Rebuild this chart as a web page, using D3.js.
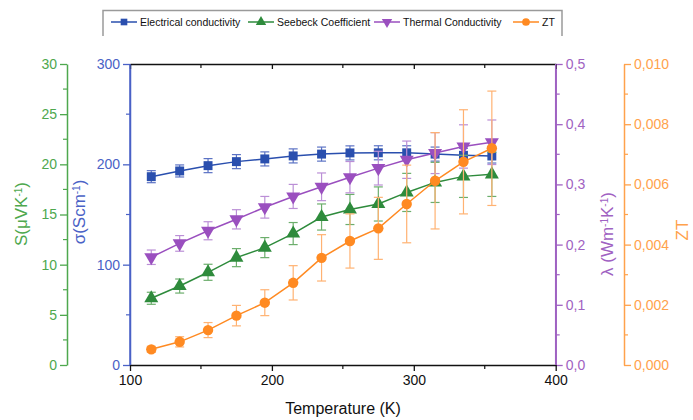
<!DOCTYPE html>
<html>
<head>
<meta charset="utf-8">
<script src="https://cdn.jsdelivr.net/npm/d3@7"></script>
<style>
  body { margin: 0; background: #fff; }
  svg { font-family: "Liberation Sans", Arial, sans-serif; }
</style>
</head>
<body>
<svg id="chart" width="693" height="420"></svg>
<script>
// data
var temps = [115, 135, 155, 175, 195, 215, 235, 255, 275, 295, 315, 335, 355];
var sigma = [187.7, 193.4, 198.7, 202.7, 205.4, 208.4, 210.2, 211.4, 211.5, 211.5, 210.2, 209, 208.3];
var sigmaErr = [6, 6, 7, 7, 7, 7, 7, 7, 7, 7, 7, 7, 7];
var seebeck = [6.65, 7.87, 9.24, 10.7, 11.7, 13.1, 14.75, 15.5, 16.05, 17.2, 18.2, 18.8, 19.0];
var seebeckErr = [0.6, 0.7, 0.8, 0.9, 1.0, 1.1, 1.3, 1.5, 1.7, 1.9, 2.0, 2.1, 2.2];
var lambda = [0.179, 0.202, 0.223, 0.242, 0.262, 0.280, 0.296, 0.312, 0.327, 0.341, 0.352, 0.363, 0.370];
var lambdaErr = [0.012, 0.013, 0.015, 0.016, 0.018, 0.02, 0.023, 0.026, 0.028, 0.031, 0.034, 0.036, 0.037];
var zt = [0.00052, 0.00077, 0.00116, 0.00164, 0.00207, 0.00273, 0.00356, 0.00412, 0.00454, 0.00535, 0.00612, 0.00675, 0.0072];
var ztErr = [0.0001, 0.00017, 0.00025, 0.00034, 0.00043, 0.00057, 0.00077, 0.0009, 0.00103, 0.00129, 0.0016, 0.00173, 0.0019];

var xTicks = [100, 200, 300, 400];
var legendNames = ["Electrical conductivity", "Seebeck Coefficient", "Thermal Conductivity", "ZT"];

var svg = d3.select("#chart");
var pTop = 64, pBottom = 365, pLeft = 130, pRight = 555.7;

var comma = d3.formatLocale({decimal: ",", thousands: ".", grouping: [3], currency: ["", ""]});

var x = d3.scaleLinear().domain([100, 400]).range([pLeft, pRight]);
var yS = d3.scaleLinear().domain([0, 30]).range([pBottom, pTop]);
var ySig = d3.scaleLinear().domain([0, 300]).range([pBottom, pTop]);
var yL = d3.scaleLinear().domain([0, 0.5]).range([pBottom, pTop]);
var yZ = d3.scaleLinear().domain([0, 0.01]).range([pBottom, pTop]);

var col = {
  blue: "#2a4fae", blueAx: "#4a62c6", blueErr: "#5b72c4",
  green: "#2e8b3c", greenAx: "#4ea84e", greenErr: "#6cae6c",
  purple: "#9a4fbf", purpleAx: "#9f62c2", purpleErr: "#bb8fd6",
  orange: "#ff8a22", orangeAx: "#ffa24c", orangeErr: "#ffb272"
};

function styleAxis(g, color, fs) {
  g.selectAll("path").attr("stroke", color).attr("stroke-width", 1.5);
  g.selectAll("line").attr("stroke", color).attr("stroke-width", 1.3);
  g.selectAll("text").attr("fill", color).style("font-size", fs || "14px").attr("font-family", null);
}
function minor(g, scale, vals, len, color) {
  g.selectAll(".mn").data(vals).enter().append("line")
    .attr("x1", 0).attr("x2", len)
    .attr("y1", function(d) { return scale(d); }).attr("y2", function(d) { return scale(d); })
    .attr("stroke", color).attr("stroke-width", 1.2);
}

// green S axis
var gS = svg.append("g").attr("transform", "translate(67,0)")
  .call(d3.axisLeft(yS).tickValues([0, 5, 10, 15, 20, 25, 30]).tickSize(7).tickPadding(3).tickSizeOuter(0));
styleAxis(gS, col.greenAx);
minor(gS, yS, [2.5, 7.5, 12.5, 17.5, 22.5, 27.5], -4, col.greenAx);

// blue sigma axis
var gSig = svg.append("g").attr("transform", "translate(" + pLeft + ",0)")
  .call(d3.axisLeft(ySig).tickValues([0, 100, 200, 300]).tickSize(7).tickPadding(3).tickSizeOuter(0));
styleAxis(gSig, col.blueAx);
minor(gSig, ySig, [50, 150, 250], -4, col.blueAx);

// purple lambda axis
var gL = svg.append("g").attr("transform", "translate(" + pRight + ",0)")
  .call(d3.axisRight(yL).tickValues([0, 0.1, 0.2, 0.3, 0.4, 0.5]).tickFormat(comma.format(".1f")).tickSize(7).tickPadding(3).tickSizeOuter(0));
styleAxis(gL, col.purpleAx);
minor(gL, yL, [0.05, 0.15, 0.25, 0.35, 0.45], 4, col.purpleAx);

// orange ZT axis
var gZ = svg.append("g").attr("transform", "translate(624,0)")
  .call(d3.axisRight(yZ).tickValues([0, 0.002, 0.004, 0.006, 0.008, 0.01]).tickFormat(comma.format(".3f")).tickSize(7).tickPadding(3).tickSizeOuter(0));
styleAxis(gZ, col.orangeAx);
minor(gZ, yZ, [0.001, 0.003, 0.005, 0.007, 0.009], 4, col.orangeAx);

// bottom and top frame
var gx = svg.append("g").attr("transform", "translate(0," + pBottom + ")")
  .call(d3.axisBottom(x).tickValues(xTicks).tickFormat(d3.format("d")).tickSize(6).tickPadding(4).tickSizeOuter(0));
styleAxis(gx, "#111");
gx.selectAll(".mnx").data([150, 250, 350]).enter().append("line")
  .attr("x1", function(d) { return x(d); }).attr("x2", function(d) { return x(d); })
  .attr("y1", 0).attr("y2", 4).attr("stroke", "#111").attr("stroke-width", 1.2);

var gt = svg.append("g").attr("transform", "translate(0," + pTop + ")")
  .call(d3.axisTop(x).tickValues(xTicks).tickFormat("").tickSize(-5).tickSizeOuter(0));
styleAxis(gt, "#111");
gt.selectAll(".mnt").data([150, 250, 350]).enter().append("line")
  .attr("x1", function(d) { return x(d); }).attr("x2", function(d) { return x(d); })
  .attr("y1", 0).attr("y2", 4).attr("stroke", "#111").attr("stroke-width", 1.2);

// redraw the coloured side lines over the frame corners
svg.append("line").attr("x1", pLeft).attr("x2", pLeft).attr("y1", pTop).attr("y2", pBottom).attr("stroke", col.blueAx).attr("stroke-width", 1.5);
svg.append("line").attr("x1", pRight).attr("x2", pRight).attr("y1", pTop).attr("y2", pBottom).attr("stroke", col.purpleAx).attr("stroke-width", 1.5);

// axis titles
function vTitle(cx, cy, color, parts) {
  var t = svg.append("text").attr("transform", "translate(" + cx + "," + cy + ") rotate(-90)")
    .attr("text-anchor", "middle").attr("fill", color).style("font-size", "17px");
  parts.forEach(function(p) {
    var s = t.append("tspan").text(p[0]);
    if (p[1]) s.attr("baseline-shift", "super").style("font-size", "10px");
  });
}
vTitle(27, 214, col.greenAx, [["S(\u03bcVK"], ["-1", true], [")"]]);
vTitle(85, 212, col.blueAx, [["\u03c3(Scm"], ["-1", true], [")"]]);
vTitle(613, 234, col.purpleAx, [["\u03bb (Wm"], ["-1", true], ["K"], ["-1", true], [")"]]);
vTitle(688, 230, col.orangeAx, [["ZT"]]);

svg.append("text").attr("x", 343).attr("y", 414).attr("text-anchor", "middle")
  .attr("fill", "#111").style("font-size", "16px").text("Temperature (K)");

// series
var series = [
  {v: sigma, e: sigmaErr, y: ySig, c: col.blue, ec: col.blueErr, sym: d3.symbolSquare, size: 80, rot: 0},
  {v: seebeck, e: seebeckErr, y: yS, c: col.green, ec: col.greenErr, sym: d3.symbolTriangle, size: 85, rot: 0},
  {v: lambda, e: lambdaErr, y: yL, c: col.purple, ec: col.purpleErr, sym: d3.symbolTriangle, size: 85, rot: 180},
  {v: zt, e: ztErr, y: yZ, c: col.orange, ec: col.orangeErr, sym: d3.symbolCircle, size: 85, rot: 0}
];

series.forEach(function(s) {
  var g = svg.append("g");
  var pts = temps.map(function(t, i) { return {t: t, v: s.v[i], e: s.e[i]}; });
  var eb = g.selectAll(".eb").data(pts).enter().append("g").attr("stroke", s.ec).attr("stroke-width", 1.2);
  eb.append("line")
    .attr("x1", function(d) { return x(d.t); }).attr("x2", function(d) { return x(d.t); })
    .attr("y1", function(d) { return s.y(d.v - d.e); }).attr("y2", function(d) { return s.y(d.v + d.e); });
  [-1, 1].forEach(function(k) {
    eb.append("line")
      .attr("x1", function(d) { return x(d.t) - 4.5; }).attr("x2", function(d) { return x(d.t) + 4.5; })
      .attr("y1", function(d) { return s.y(d.v + k * d.e); }).attr("y2", function(d) { return s.y(d.v + k * d.e); });
  });
  g.append("path").datum(pts)
    .attr("d", d3.line().x(function(d) { return x(d.t); }).y(function(d) { return s.y(d.v); }))
    .attr("fill", "none").attr("stroke", s.c).attr("stroke-width", 1.5);
  g.selectAll(".pt").data(pts).enter().append("path")
    .attr("d", d3.symbol().type(s.sym).size(s.size))
    .attr("transform", function(d) { return "translate(" + x(d.t) + "," + s.y(d.v) + ") rotate(" + s.rot + ")"; })
    .attr("fill", s.c);
});

// legend
var lg = svg.append("g");
lg.append("path").attr("d", "M103,36 V10.5 H562 V36").attr("fill", "none").attr("stroke", "#9a9a9a").attr("stroke-width", 1.5);
var legendPos = [111, 248, 374, 513];
legendPos.forEach(function(px, i) {
  var s = series[i];
  var it = lg.append("g").attr("transform", "translate(" + px + ",22)");
  it.append("line").attr("x1", 0).attr("x2", 26).attr("stroke", s.c).attr("stroke-width", 1.5);
  it.append("path").attr("d", d3.symbol().type(s.sym).size(s.size * 0.55))
    .attr("transform", "translate(13,0) rotate(" + s.rot + ")").attr("fill", s.c);
  it.append("text").attr("x", 29).attr("y", 4).attr("fill", "#111").style("font-size", "10.5px").text(legendNames[i]);
});
</script>
</body>
</html>
